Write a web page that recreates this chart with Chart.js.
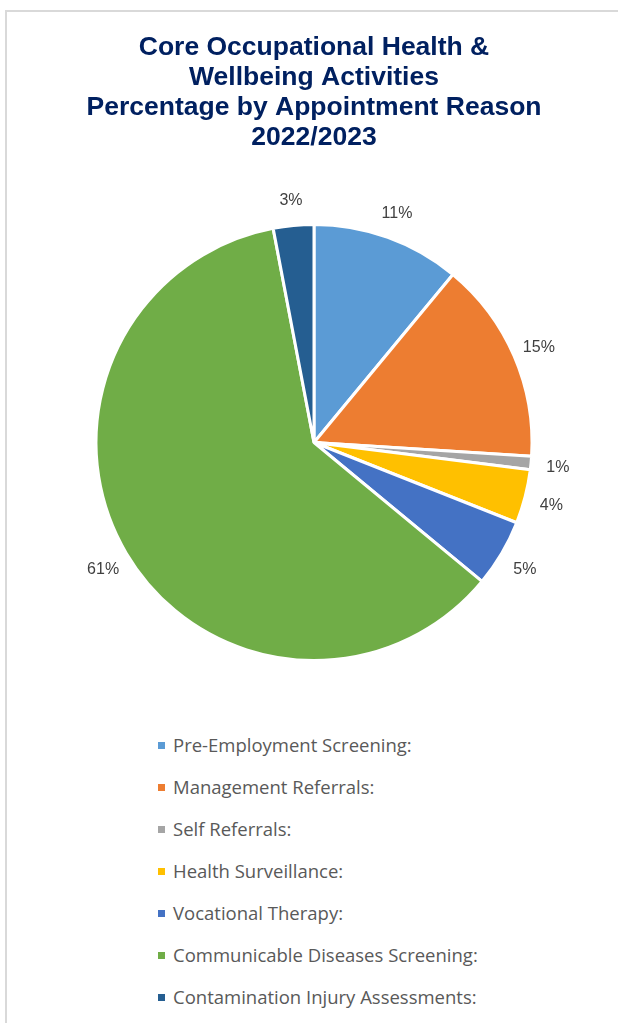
<!DOCTYPE html>
<html>
<head>
<meta charset="utf-8">
<script src="https://cdn.jsdelivr.net/npm/chart.js@4/dist/chart.umd.min.js"></script>
<style>
  html, body { margin: 0; padding: 0; background: #fff; overflow: hidden; }
  body { width: 618px; height: 1023px; position: relative; }
  .frame {
    position: absolute; left: 5px; top: 10px; width: 700px; height: 1100px;
    border-left: 2px solid #d9d9d9; border-top: 2px solid #d9d9d9;
  }
  #pie { position: absolute; left: 0; top: 0; }
  #legend {
    position: absolute; left: 158px; top: 724px; margin: 0; padding: 0; list-style: none;
    font-family: "Open Sans", "Noto Sans", sans-serif; font-size: 18.5px; color: #595959;
  }
  #legend li { height: 42px; line-height: 42px; white-space: nowrap; }
  #legend .box { display: inline-block; width: 7px; height: 7px; margin-right: 8px; vertical-align: middle; position: relative; top: -2px; }
</style>
</head>
<body>
<div class="frame"></div>
<canvas id="pie" width="618" height="700"></canvas>
<ul id="legend"></ul>
<script>
// Appointment reasons and their share of appointments (%)
const reasons = [
  "Pre-Employment Screening:",
  "Management Referrals:",
  "Self Referrals:",
  "Health Surveillance:",
  "Vocational Therapy:",
  "Communicable Diseases Screening:",
  "Contamination Injury Assessments:"
];
const shares = [11, 15, 1, 4, 5, 61, 3];
const sliceColors = ["#5B9BD5", "#ED7D31", "#A5A5A5", "#FFC000", "#4472C4", "#70AD47", "#255E91"];
const titleLines = [
  "Core Occupational Health &",
  "Wellbeing Activities",
  "Percentage by Appointment Reason",
  "2022/2023"
];

// Percentage labels placed just outside each slice
const outsideLabels = {
  id: "outsideLabels",
  afterDatasetsDraw(chart) {
    const ctx = chart.ctx;
    const meta = chart.getDatasetMeta(0);
    ctx.save();
    ctx.font = "16px 'Liberation Sans', Arial, sans-serif";
    ctx.fillStyle = "#404040";
    ctx.textAlign = "center";
    ctx.textBaseline = "middle";
    meta.data.forEach((arc, i) => {
      const p = arc.getProps(["x", "y", "startAngle", "endAngle", "outerRadius"], true);
      const mid = (p.startAngle + p.endAngle) / 2;
      const r = p.outerRadius + 27;
      ctx.fillText(shares[i] + "%", p.x + Math.cos(mid) * r, p.y + Math.sin(mid) * r + 2);
    });
    ctx.restore();
  }
};

new Chart(document.getElementById("pie"), {
  type: "pie",
  data: {
    labels: reasons,
    datasets: [{
      data: shares,
      backgroundColor: sliceColors,
      borderColor: "#ffffff",
      borderWidth: 3
    }]
  },
  options: {
    responsive: false,
    animation: false,
    layout: { padding: { left: 10, right: 0, top: 0, bottom: 38 } },
    plugins: {
      legend: { display: false },
      tooltip: { enabled: false },
      title: {
        display: true,
        text: titleLines,
        color: "#002060",
        font: { family: "'Liberation Sans', Arial, sans-serif", size: 26.5, weight: "bold", lineHeight: "30px" },
        padding: { top: 33, bottom: 70 }
      }
    }
  },
  plugins: [outsideLabels]
});

// Legend listing each reason with its slice colour
const legend = document.getElementById("legend");
reasons.forEach((name, i) => {
  const li = document.createElement("li");
  const box = document.createElement("span");
  box.className = "box";
  box.style.background = sliceColors[i];
  li.appendChild(box);
  li.appendChild(document.createTextNode(name));
  legend.appendChild(li);
});
</script>
</body>
</html>
